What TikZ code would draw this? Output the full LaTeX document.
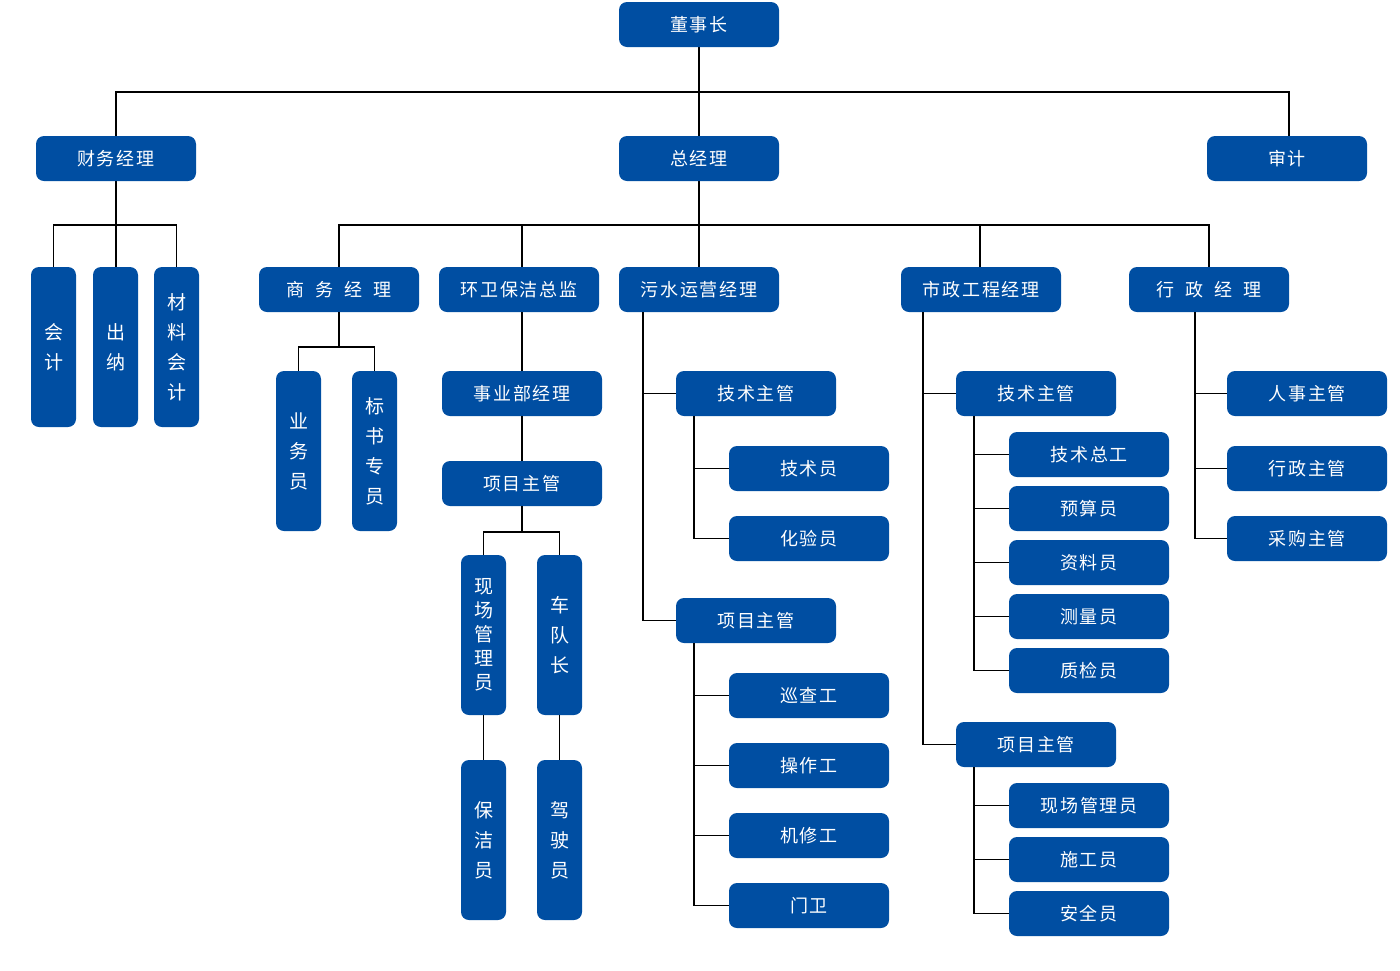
\documentclass[tikz,border=0pt]{standalone}
\usepackage{fontspec}
\newfontfamily\cjk[LetterSpace=11]{Noto Sans CJK SC}
\newfontfamily\cjkwide[WordSpace=1.35,LetterSpace=11]{Noto Sans CJK SC}
\newfontfamily\cjkv{Noto Sans CJK SC}
\definecolor{boxblue}{RGB}{0,78,162}
\tikzset{
  hbox/.style={fill=boxblue, rounded corners=8pt, text=white, minimum width=160pt, minimum height=45pt, inner sep=0pt, font=\cjk\fontsize{18}{18}\selectfont},
  hwide/.style={hbox, font=\cjkwide\fontsize{18}{18}\selectfont},
  vbox/.style={fill=boxblue, rounded corners=8pt, text=white, minimum width=45pt, minimum height=160pt, inner sep=0pt, align=center, font=\cjkv\fontsize{19}{30}\selectfont},
  vtight/.style={vbox, font=\cjkv\fontsize{19}{24}\selectfont},
  link/.style={draw=black, line width=1.1pt}
}
\begin{document}
\begin{tikzpicture}[x=1pt,y=-1pt]
\useasboundingbox (0,0) rectangle (1400,970);
% bus and trunk coordinates
\coordinate (b1) at (699,92);
\coordinate (b2) at (699,225);
\coordinate (b3) at (339,347);
\coordinate (b4) at (522,532);
\coordinate (wt) at (643,0);
\coordinate (wt2) at (694,0);
\coordinate (st) at (923,0);
\coordinate (st2) at (974,0);
\coordinate (xt) at (1195,0);

% connectors of the two upper levels (drawn first, under the boxes)
\draw[link] (699,47) -- (699,136);
\draw[link] (116,136) -- (116,92) -- (1289,92) -- (1289,136);
\draw[link] (116,181) -- (116,267);
\draw[link] (53.5,267) -- (53.5,225) -- (176.5,225) -- (176.5,267);
\draw[link] (699,181) -- (699,267);
\draw[link] (339,267) -- (339,225) -- (1209,225) -- (1209,267);
\draw[link] (522,225) -- (522,267);
\draw[link] (980,225) -- (980,267);

% level 1
\node[hbox] (dsz) at (699,24.5) {董事长};
\node[hbox] (cw) at (116,158.5) {财务经理};
\node[hbox] (zjl) at (699,158.5) {总经理};
\node[hbox] (sj) at (1287,158.5) {审计};

% finance children
\node[vbox] (kj) at (53.5,347) {会\\计};
\node[vbox] (cn) at (115.5,347) {出\\纳};
\node[vbox] (clkj) at (176.5,347) {材\\料\\会\\计};

% level 2
\node[hwide] (swjl) at (339,289.5) {商 务 经 理};
\node[hbox] (hw) at (519,289.5) {环卫保洁总监};
\node[hbox] (wsyy) at (699,289.5) {污水运营经理};
\node[hbox] (szgc) at (981,289.5) {市政工程经理};
\node[hwide] (xzjl) at (1209,289.5) {行 政 经 理};

% business
\node[vbox] (ywy) at (298.5,451) {业\\务\\员};
\node[vbox] (bszy) at (374.5,451) {标\\书\\专\\员};
\draw[link] (swjl.south) -- (b3);
\draw[link] (ywy.north) -- (ywy.north |- b3) -- (bszy.north |- b3) -- (bszy.north);

% sanitation
\node[hbox] (syb) at (522,393.5) {事业部经理};
\node[hbox] (hxm) at (522,483.5) {项目主管};
\node[vtight] (xcgl) at (483.5,635) {现\\场\\管\\理\\员};
\node[vbox] (cdz) at (559.5,635) {车\\队\\长};
\node[vbox] (bjy) at (483.5,840) {保\\洁\\员};
\node[vbox] (jsy) at (559.5,840) {驾\\驶\\员};
\draw[link] (hw.south -| syb.north) -- (syb.north);
\draw[link] (syb.south) -- (hxm.north);
\draw[link] (hxm.south) -- (b4);
\draw[link] (xcgl.north) -- (xcgl.north |- b4) -- (cdz.north |- b4) -- (cdz.north);
\draw[link] (xcgl.south) -- (bjy.north);
\draw[link] (cdz.south) -- (jsy.north);

% sewage
\node[hbox] (wjs) at (756,393.5) {技术主管};
\node[hbox] (jsy2) at (809,468.5) {技术员};
\node[hbox] (hyy) at (809,538.5) {化验员};
\node[hbox] (wxm) at (756,620.5) {项目主管};
\node[hbox] (xcg) at (809,695.5) {巡查工};
\node[hbox] (czg) at (809,765.5) {操作工};
\node[hbox] (jxg) at (809,835.5) {机修工};
\node[hbox] (mw) at (809,905.5) {门卫};
\draw[link] (wsyy.south -| wt) -- (wt |- wxm.west) -- (wxm.west);
\draw[link] (wt |- wjs.west) -- (wjs.west);
\draw[link] (wjs.south -| wt2) -- (wt2 |- hyy.west) -- (hyy.west);
\draw[link] (wt2 |- jsy2.west) -- (jsy2.west);
\draw[link] (wxm.south -| wt2) -- (wt2 |- mw.west) -- (mw.west);
\foreach \n in {xcg,czg,jxg} \draw[link] (wt2 |- \n.west) -- (\n.west);

% municipal
\node[hbox] (sjs) at (1036,393.5) {技术主管};
\node[hbox] (jszg) at (1089,454.5) {技术总工};
\node[hbox] (ysy) at (1089,508.5) {预算员};
\node[hbox] (zly) at (1089,562.5) {资料员};
\node[hbox] (clz) at (1089,616.5) {测量员};
\node[hbox] (zjy) at (1089,670.5) {质检员};
\node[hbox] (sxm) at (1036,744.5) {项目主管};
\node[hbox] (xcgly) at (1089,805.5) {现场管理员};
\node[hbox] (sgy) at (1089,859.5) {施工员};
\node[hbox] (aqy) at (1089,913.5) {安全员};
\draw[link] (szgc.south -| st) -- (st |- sxm.west) -- (sxm.west);
\draw[link] (st |- sjs.west) -- (sjs.west);
\draw[link] (sjs.south -| st2) -- (st2 |- zjy.west) -- (zjy.west);
\foreach \n in {jszg,ysy,zly,clz} \draw[link] (st2 |- \n.west) -- (\n.west);
\draw[link] (sxm.south -| st2) -- (st2 |- aqy.west) -- (aqy.west);
\foreach \n in {xcgly,sgy} \draw[link] (st2 |- \n.west) -- (\n.west);

% administration
\node[hbox] (rszg) at (1307,393.5) {人事主管};
\node[hbox] (xzzg) at (1307,468.5) {行政主管};
\node[hbox] (cgzg) at (1307,538.5) {采购主管};
\draw[link] (xzjl.south -| xt) -- (xt |- cgzg.west) -- (cgzg.west);
\foreach \n in {rszg,xzzg} \draw[link] (xt |- \n.west) -- (\n.west);
\end{tikzpicture}
\end{document}
